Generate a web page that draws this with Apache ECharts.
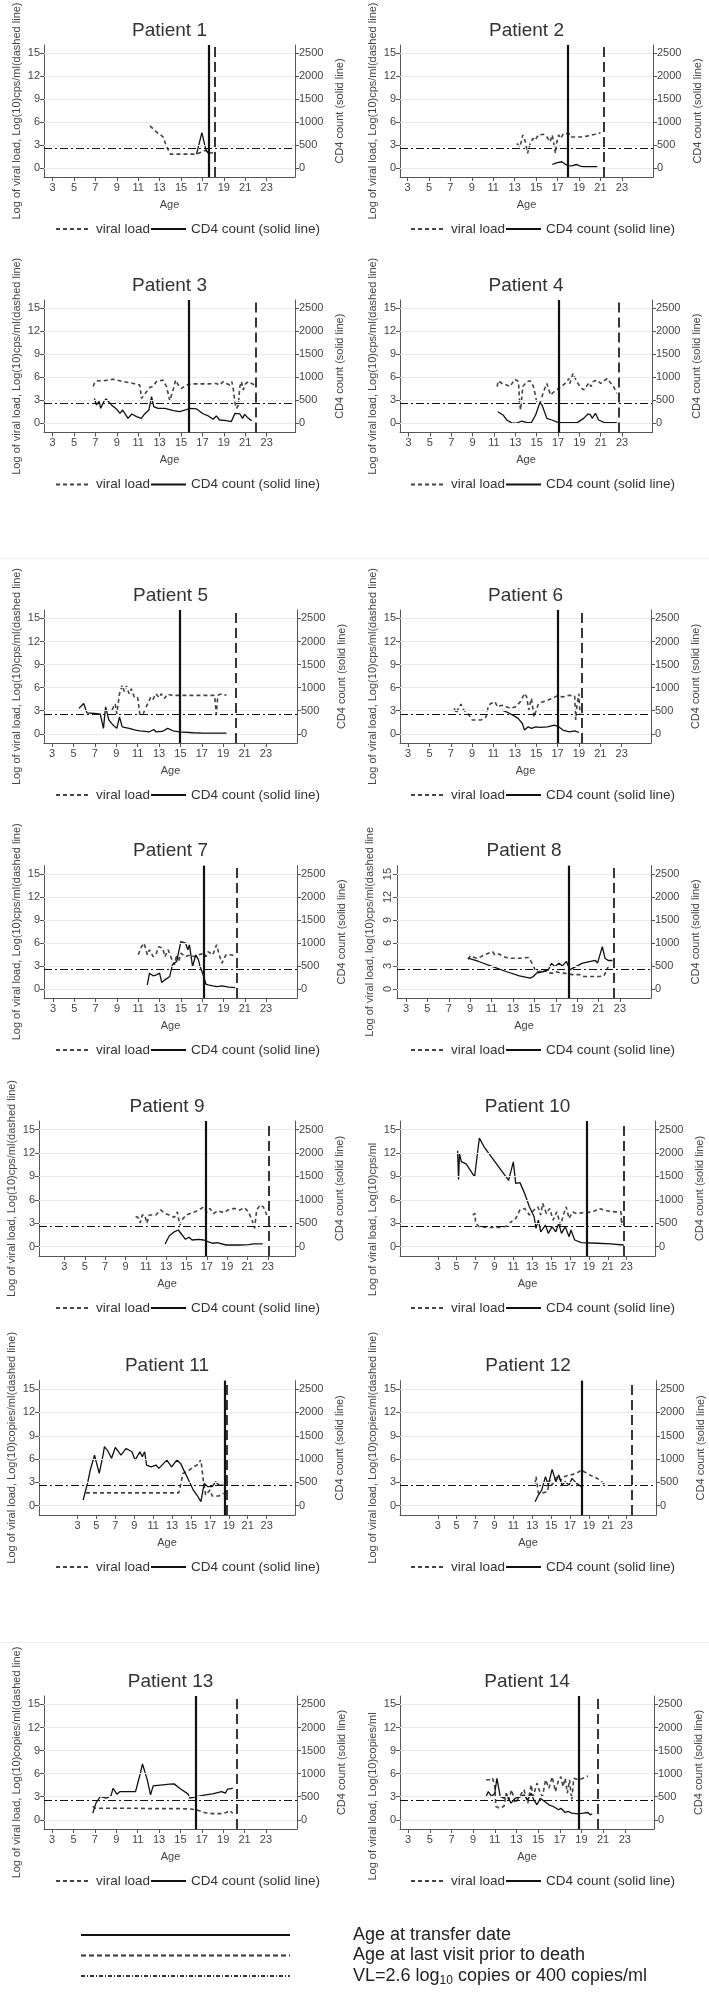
<!DOCTYPE html>
<html>
<head>
<meta charset="utf-8">
<script src="https://cdn.jsdelivr.net/npm/echarts@6/dist/echarts.min.js"></script>
<style>
  body { margin: 0; background: #fff; overflow: hidden; }
  #chart { position: absolute; left: 0; top: -30px; width: 709px; height: 2023px; }
  .sep { position: absolute; left: 0; width: 709px; height: 1px; background: #eeeeee; }
</style>
</head>
<body>
<div id="chart"></div>
<div class="sep" style="top:558px"></div>
<div class="sep" style="top:1642px"></div>
<script>
// ages in years, viral load in log10 copies/ml, CD4 in cells
var vl1 = [[12.1,5.5],[12.7,4.7],[13.3,4.1],[13.65,2.8],[14.0,1.8],[16.45,1.8],[16.8,2.0],[17.3,2.3],[17.6,1.9],[18.0,2.0]];
var cd4_1 = [[16.45,300],[16.95,770],[17.3,420],[17.5,330],[17.7,300]];

var vl2 = [[13.2,3.2],[13.5,2.75],[13.75,4.3],[14.0,3.4],[14.2,1.9],[14.45,3.2],[14.7,3.85],[14.9,3.6],[15.2,4.3],[15.7,4.4],[16.0,4.05],[16.3,3.4],[16.5,4.3],[16.7,2.75],[16.8,1.9],[16.9,3.2],[17.1,4.3],[17.3,3.85],[17.55,4.5],[17.9,4.5],[18.2,4.4],[18.3,4.05],[19.1,4.05],[19.7,4.15],[20.5,4.4],[21.0,4.6]];
var cd4_2 = [[16.5,73],[16.9,110],[17.4,133],[17.7,83],[18.0,50],[18.3,43],[18.8,73],[19.1,37],[19.4,28],[20.7,28]];

var vl3 = [[6.8,4.8],[6.95,5.4],[7.3,5.55],[7.75,5.55],[8.65,5.75],[9.6,5.45],[10.55,5.2],[11.15,5.0],[11.3,3.25],[11.8,4.15],[12.1,4.7],[12.4,4.85],[12.7,5.45],[13.0,5.55],[13.3,5.65],[13.65,4.8],[13.95,2.95],[14.3,4.55],[14.5,5.65],[14.75,5.0],[15.05,4.55],[15.5,5.0],[16.0,5.15],[16.8,5.15],[17.55,5.15],[18.3,5.2],[18.6,5.0],[18.95,5.45],[19.25,5.2],[19.55,5.0],[19.75,5.45],[19.9,4.35],[20.05,2.6],[20.2,1.95],[20.35,2.4],[20.5,4.8],[20.65,5.45],[20.8,4.35],[21.05,5.2],[21.3,5.45],[21.6,5.2],[21.9,5.0]];
var cd4_3 = [[6.9,543],[7.1,400],[7.35,478],[7.5,327],[7.8,478],[8.0,528],[8.5,400],[9.0,305],[9.3,217],[9.55,290],[9.75,217],[10.05,108],[10.4,203],[10.85,145],[11.3,108],[11.6,203],[12.0,290],[12.25,580],[12.45,362],[12.85,327],[13.5,327],[14.3,275],[14.9,253],[15.4,290],[15.8,327],[16.45,312],[17.1,203],[17.55,160],[18.0,87],[18.3,160],[18.6,72],[19.25,58],[19.7,37],[19.9,145],[20.05,217],[20.5,203],[20.75,108],[20.95,195],[21.3,108],[21.6,58]];

var vl4 = [[11.3,4.8],[11.4,5.55],[11.75,5.2],[12.2,5.0],[12.5,4.8],[12.95,5.75],[13.3,5.45],[13.4,2.6],[13.5,1.75],[13.7,4.8],[14.1,5.45],[14.4,5.55],[14.7,4.8],[15.0,2.85],[15.3,2.6],[15.65,4.15],[15.95,5.2],[16.3,3.7],[16.65,4.15],[17.05,4.55],[17.5,5.0],[17.85,5.45],[18.0,5.85],[18.1,5.2],[18.4,6.5],[18.75,5.45],[19.05,4.8],[19.4,4.35],[19.65,4.8],[19.9,5.3],[20.1,4.8],[20.3,5.45],[20.65,5.65],[21.0,5.2],[21.3,5.55],[21.6,5.85],[21.9,5.3],[22.2,4.8],[22.5,3.9]];
var cd4_4 = [[11.35,253],[11.85,182],[12.2,72],[12.7,5],[13.15,5],[13.6,50],[14.1,15],[14.5,15],[14.9,182],[15.3,450],[15.5,398],[15.95,108],[16.4,72],[17.05,15],[17.85,15],[18.8,15],[19.4,108],[19.8,203],[20.05,182],[20.2,108],[20.5,217],[20.8,72],[21.3,22],[22.5,15]];

var vl5 = [[8.6,3.1],[8.9,3.9],[9.05,2.6],[9.3,5.2],[9.55,6.3],[9.75,5.5],[9.95,6.2],[10.2,5.2],[10.4,5.85],[10.7,4.7],[11.0,4.7],[11.2,2.55],[11.5,2.55],[11.8,3.5],[12.2,4.7],[12.4,4.4],[12.7,5.2],[13.0,4.7],[13.2,5.2],[13.5,4.6],[13.8,5.15],[14.2,5.0],[15.9,5.0],[18.2,5.0],[18.35,2.55],[18.5,5.0],[18.85,5.2],[19.3,5.0]];
var cd4_5 = [[5.5,550],[5.95,657],[6.25,455],[7.0,440],[7.5,427],[7.8,117],[8.0,583],[8.3,300],[8.7,188],[9.05,117],[9.3,367],[9.55,150],[10.2,117],[10.8,80],[11.2,65],[12.1,43],[12.5,93],[12.7,43],[13.3,50],[13.8,117],[14.3,65],[14.9,43],[16.2,22],[17.1,15],[19.3,15]];

var vl6 = [[7.3,3.3],[7.55,2.65],[7.75,3.5],[7.95,3.85],[8.2,3.1],[8.6,2.65],[9.0,1.8],[9.85,1.8],[10.3,2.2],[10.5,3.5],[10.7,3.9],[11.15,4.15],[11.35,3.5],[11.8,3.7],[12.2,3.5],[12.6,3.3],[13.05,3.5],[13.5,4.15],[13.9,5.25],[14.1,4.8],[14.3,3.1],[14.55,4.6],[14.8,2.2],[15.2,3.9],[15.6,4.15],[16.05,4.35],[16.5,4.6],[16.9,4.9],[17.5,4.8],[18.1,5.0],[18.6,4.9],[18.7,1.8],[18.8,3.5],[19.0,5.2],[19.1,2.6]];
var cd4_6 = [[11.8,513],[12.2,477],[12.8,405],[13.3,333],[13.7,223],[13.9,80],[14.25,150],[14.55,117],[14.95,150],[15.4,137],[16.05,150],[16.7,188],[17.1,150],[17.5,80],[18.1,43],[18.6,65],[19.0,28]];

var vl7 = [[11.0,4.45],[11.3,5.5],[11.55,5.95],[11.85,4.45],[12.05,5.1],[12.4,4.2],[12.7,4.65],[12.9,5.5],[13.3,5.3],[13.5,4.2],[13.8,5.1],[14.1,4.0],[14.4,3.15],[14.6,4.45],[14.8,3.55],[15.0,4.65],[15.45,4.2],[15.85,4.45],[16.3,4.2],[16.7,4.45],[17.15,4.65],[17.35,4.2],[17.55,4.85],[18.0,4.45],[18.35,5.75],[18.6,4.45],[18.85,3.35],[19.05,4.0],[19.25,4.45],[19.7,4.45],[20.1,4.3]];
var cd4_7 = [[11.85,87],[12.05,340],[12.4,283],[12.7,305],[13.0,340],[13.2,138],[13.5,195],[13.95,267],[14.2,522],[14.6,595],[15.0,1028],[15.45,993],[15.65,848],[15.8,957],[16.1,485],[16.4,738],[16.65,630],[16.8,485],[17.15,267],[17.35,100],[17.55,87],[18.0,65],[18.4,50],[18.85,65],[19.5,37],[20.1,28]];

var vl8 = [[8.8,3.85],[9.0,4.3],[9.6,4.0],[10.0,4.2],[10.7,4.65],[11.1,4.85],[11.3,4.45],[11.7,4.55],[12.1,4.2],[12.6,4.0],[13.6,4.0],[14.45,4.1],[14.9,3.1],[15.1,2.25],[15.5,2.25],[15.9,2.5],[16.3,2.05],[16.7,2.05],[16.9,2.25],[17.75,2.05],[18.6,1.85],[19.2,1.85],[19.65,1.6],[21.1,1.6],[21.5,1.7],[21.7,2.25],[21.9,2.9],[22.1,3.35]];
var cd4_8 = [[8.8,667],[9.8,595],[11.1,485],[12.35,377],[13.6,283],[14.6,232],[14.9,267],[15.2,340],[15.9,377],[16.3,413],[16.6,558],[16.9,483],[17.3,558],[17.6,500],[18.0,595],[18.3,413],[18.6,450],[19.5,558],[20.7,617],[20.9,558],[21.35,920],[21.6,667],[21.9,617],[22.3,617]];

var vl9 = [[10.0,3.85],[10.2,3.8],[10.45,3.05],[10.65,4.05],[10.9,4.05],[11.1,3.0],[11.35,4.05],[12.0,4.05],[12.45,4.7],[12.9,4.25],[13.3,4.05],[13.8,3.75],[14.1,4.45],[14.35,2.75],[14.65,3.6],[15.0,4.05],[15.35,4.25],[15.8,4.45],[16.2,4.7],[16.7,5.1],[17.0,4.45],[17.3,4.9],[17.65,4.25],[18.1,4.6],[18.7,4.35],[19.1,4.7],[19.7,4.9],[20.25,4.7],[20.7,5.0],[21.1,4.45],[21.5,3.2],[21.7,2.35],[21.9,4.7],[22.25,5.35],[22.55,5.1],[22.9,4.05]];
var cd4_9 = [[12.9,57],[13.3,227],[13.8,317],[14.2,355],[14.5,270],[14.9,157],[15.25,200],[15.55,142],[16.2,157],[16.7,142],[17.1,107],[17.6,72],[18.0,85],[18.9,35],[20.25,35],[21.1,43],[21.6,57],[22.5,57]];

var vl10 = [[6.7,4.05],[6.95,4.25],[7.0,3.0],[7.4,2.55],[8.4,2.45],[9.8,2.45],[10.3,2.65],[10.8,3.2],[11.25,3.6],[11.7,4.7],[12.2,4.9],[12.7,4.05],[13.2,4.7],[13.6,5.1],[13.9,4.05],[14.1,5.55],[14.5,4.25],[14.85,4.9],[15.2,3.4],[15.6,4.45],[16.0,2.75],[16.3,4.05],[16.6,5.1],[16.9,3.6],[17.25,4.45],[17.7,4.25],[18.4,4.35],[19.4,4.45],[20.1,4.9],[20.8,4.6],[21.8,4.45],[22.4,4.45],[22.45,2.8],[22.55,3.6]];
var cd4_10 = [[5.1,2050],[5.2,1433],[5.3,1983],[5.5,1817],[6.0,1767],[6.9,1492],[7.4,2317],[7.9,2133],[10.5,1417],[11.0,1810],[11.25,1350],[11.7,1367],[12.2,1133],[12.7,850],[13.2,638],[13.4,390],[13.65,567],[13.9,317],[14.4,462],[14.7,283],[15.1,427],[15.5,317],[15.8,497],[16.1,283],[16.5,427],[16.9,213],[17.1,355],[17.5,142],[18.2,85],[19.9,72],[21.3,57],[22.7,35]];

var vl11 = [[3.9,1.65],[13.7,1.65],[13.9,2.65],[14.15,4.15],[14.5,4.35],[14.85,4.6],[15.3,5.0],[15.8,5.35],[16.05,5.95],[16.3,3.3],[16.55,1.35],[17.0,2.0],[17.25,1.25],[17.95,1.25],[18.45,1.6]];
var cd4_11 = [[3.6,122],[4.1,515],[4.35,765],[4.8,1083],[5.3,693],[5.7,1083],[5.85,1267],[6.15,1193],[6.35,1228],[6.6,1017],[7.0,1250],[7.6,1083],[8.15,1228],[8.75,1157],[9.1,978],[9.6,1157],[9.85,1050],[10.1,1157],[10.3,872],[10.8,833],[11.3,872],[11.6,800],[12.45,978],[12.95,833],[13.5,978],[13.9,907],[14.4,693],[14.75,550],[15.25,333],[15.7,207],[16.05,85],[16.4,478],[16.8,407],[17.25,407],[17.6,515],[17.95,443],[18.45,443]];

var vl12 = [[13.3,2.85],[13.4,3.75],[13.65,1.6],[14.1,1.65],[14.6,1.8],[14.85,3.3],[15.1,2.65],[15.6,3.75],[16.05,3.3],[16.5,3.8],[17.0,3.95],[17.7,4.15],[18.2,4.6],[18.9,4.05],[19.9,3.5],[20.8,2.65]];
var cd4_12 = [[13.3,85],[13.65,228],[14.0,333],[14.4,622],[14.7,443],[15.1,778],[15.5,515],[15.8,657],[16.15,443],[16.5,515],[16.9,443],[17.2,585],[17.7,478],[18.2,407]];

var vl13 = [[6.8,1.75],[7.0,1.5],[7.9,1.5],[9.1,1.5],[10.8,1.5],[12.1,1.45],[13.35,1.45],[15.05,1.45],[15.9,1.4],[16.5,1.3],[16.9,1.1],[17.35,0.9],[18.0,0.8],[18.85,0.8],[19.3,0.95],[19.6,1.2],[19.9,0.85]];
var cd4_13 = [[6.8,143],[7.1,360],[7.5,505],[8.05,468],[8.5,517],[8.7,683],[9.05,555],[9.35,612],[10.0,612],[10.8,612],[11.25,1008],[11.45,1210],[11.9,865],[12.2,540],[12.45,735],[13.35,757],[14.0,772],[14.4,778],[15.05,663],[15.7,562],[15.9,468],[16.3,490],[17.2,533],[18.0,562],[18.85,612],[19.2,577],[19.4,663],[19.9,683]];

var vl14 = [[10.2,5.2],[10.6,5.2],[10.8,5.4],[11.0,4.3],[11.1,1.75],[11.4,1.5],[11.85,1.75],[12.05,3.45],[12.3,2.6],[12.55,3.9],[12.9,2.15],[13.3,3.05],[13.7,3.9],[14.05,2.15],[14.35,4.55],[14.55,3.05],[14.9,4.75],[15.2,3.45],[15.4,3.05],[15.7,5.2],[16.0,4.1],[16.3,5.6],[16.6,3.65],[16.9,5.2],[17.1,5.6],[17.3,4.3],[17.5,5.4],[17.7,3.45],[17.9,5.2],[18.1,2.6],[18.3,5.4],[18.7,5.2],[19.15,5.4],[19.6,5.7]];
var cd4_14 = [[10.2,505],[10.4,612],[10.7,505],[11.0,577],[11.2,900],[11.5,505],[11.85,468],[12.1,540],[12.5,360],[12.9,468],[13.3,490],[13.7,540],[14.05,433],[14.35,577],[14.6,433],[14.9,325],[15.2,468],[15.6,397],[16.0,325],[16.4,288],[16.9,217],[17.1,250],[17.5,158],[17.8,180],[18.1,143],[18.7,130],[19.15,143],[19.6,158],[19.8,108],[20.0,130]];

var patients = ['Patient 1','Patient 2','Patient 3','Patient 4','Patient 5','Patient 6','Patient 7','Patient 8','Patient 9','Patient 10','Patient 11','Patient 12','Patient 13','Patient 14'];
var transferAge = [17.55,17.93,15.74,17.1,14.92,16.98,17.1,18.2,16.9,18.78,18.55,18.2,16.4,18.74];
var lastVisitAge = [18.17,21.29,22.0,22.7,20.17,19.27,20.28,22.4,23.1,22.66,18.8,23.48,20.3,20.5];
var ageMin = [2.2,2.3,2.2,2.2,2.24,2.24,2.15,2.16,0.5,-1.0,-1.07,-1.0,2.24,2.25];
var ageMax = [25.65,25.9,25.65,25.8,25.9,25.75,25.9,25.9,25.67,26.0,26.0,26.1,25.9,25.7];
var vlData = [vl1,vl2,vl3,vl4,vl5,vl6,vl7,vl8,vl9,vl10,vl11,vl12,vl13,vl14];
var cd4Data = [cd4_1,cd4_2,cd4_3,cd4_4,cd4_5,cd4_6,cd4_7,cd4_8,cd4_9,cd4_10,cd4_11,cd4_12,cd4_13,cd4_14];

var ageTicks = [3,5,7,9,11,13,15,17,19,21,23];
var vlTicks = [0,3,6,9,12,15];
var cd4Ticks = [0,500,1000,1500,2000,2500];
var vlMin = -1.2, vlMax = 16.1;
var cd4PerLog = 2500 / 15;
var vlThreshold = 2.6;

var nameCps = 'Log of viral load, Log(10)cps/ml(dashed line)';
var nameCopies = 'Log of viral load, Log(10)copies/ml(dashed line)';
var vlAxisNames = [nameCps,nameCps,nameCps,nameCps,nameCps,nameCps,nameCps,
  'Log of viral load, log(10)cps/ml(dashed line', nameCps, 'Log of viral load, Log(10)cps/ml',
  nameCopies, nameCopies, nameCopies, 'Log of viral load, Log(10)copies/ml'];
var cd4AxisName = 'CD4 count (solid line)';
var legendNames = ['viral load', 'CD4 count (solid line)'];
var keyNames = ['Age at transfer date', 'Age at last visit prior to death', 'VL=2.6 log10 copies or 400 copies/ml'];

// layout (pixels, page coordinates); the canvas starts SHIFT px above the page
var SHIFT = 30;
var rowBox = [[45,177],[300,432.5],[610,743],[865.6,998],[1121,1256],[1380.6,1515],[1696,1829]];
var colBox = [[44,295],[400,653],[44,295],[400,652],[44,297],[400,651],[44,297],[397,651],[39,295],[400,655],[39,295],[400,656],[44,297],[400,654]];
var namePad = [0,0,0,0,0,0,0,0,0,62,0,0,0,68];

function buildOption() {
  var axisColor = '#555';
  var textColor = '#444';
  var font = 'Liberation Sans, Arial, sans-serif';
  var plain = function (v) { return String(v); };

  var option = {
    animation: false,
    backgroundColor: '#fff',
    textStyle: { fontFamily: font },
    title: [], grid: [], xAxis: [], yAxis: [], series: [], legend: []
  };

  for (var i = 0; i < patients.length; i++) {
    var r = Math.floor(i / 2), c = i % 2;
    var gTop = rowBox[r][0] + SHIFT, gBottom = rowBox[r][1] + SHIFT;
    var gLeft = colBox[i][0], gRight = colBox[i][1];

    option.grid.push({ left: gLeft, top: gTop, width: gRight - gLeft, height: gBottom - gTop, outerBoundsMode: 'none' });

    option.title.push({
      text: patients[i], left: (gLeft + gRight) / 2, top: gTop - 24, textAlign: 'center', padding: 0,
      textStyle: { fontSize: 19, fontWeight: 'normal', color: '#333', fontFamily: font }
    });

    option.xAxis.push({
      gridIndex: i, type: 'value', min: ageMin[i], max: ageMax[i],
      name: 'Age', nameLocation: 'middle', nameGap: 22,
      nameTextStyle: { fontSize: 11, color: textColor },
      axisLine: { onZero: false, lineStyle: { color: axisColor, width: 1 } },
      axisTick: { customValues: ageTicks, length: 4, lineStyle: { color: axisColor } },
      axisLabel: { customValues: ageTicks, fontSize: 11, color: textColor, margin: 5, formatter: plain },
      splitLine: { show: false }
    });

    option.yAxis.push({
      gridIndex: i, type: 'value', position: 'left', min: vlMin, max: vlMax,
      name: vlAxisNames[i], nameLocation: 'middle', nameGap: 22, nameRotate: 90,
      nameTextStyle: { fontSize: 11, color: textColor, padding: [0, namePad[i], 0, 0] },
      axisLine: { show: true, onZero: false, lineStyle: { color: axisColor, width: 1 } },
      axisTick: { show: true, customValues: vlTicks, length: 4, lineStyle: { color: axisColor } },
      axisLabel: { customValues: vlTicks, fontSize: 11, color: textColor, margin: 4, rotate: i === 7 ? 90 : 0, formatter: plain },
      splitLine: { show: false }
    });
    option.yAxis.push({
      gridIndex: i, type: 'value', position: 'right', min: vlMin * cd4PerLog, max: vlMax * cd4PerLog,
      name: cd4AxisName, nameLocation: 'middle', nameGap: 39, nameRotate: 90,
      nameTextStyle: { fontSize: 11, color: textColor },
      axisLine: { show: true, onZero: false, lineStyle: { color: axisColor, width: 1 } },
      axisTick: { show: true, customValues: cd4Ticks, length: 4, lineStyle: { color: axisColor } },
      axisLabel: { customValues: cd4Ticks, fontSize: 11, color: textColor, margin: 4, formatter: plain },
      splitLine: { show: false }
    });

    // light gridlines
    option.series.push({
      type: 'line', xAxisIndex: i, yAxisIndex: 2 * i, data: [], silent: true, z: 1,
      markLine: {
        silent: true, symbol: 'none', label: { show: false },
        data: vlTicks.map(function (v) { return { yAxis: v, lineStyle: { color: '#ebebeb', width: 1, type: 'solid' } }; })
      }
    });
    option.series.push({
      name: 'viral load', type: 'line', xAxisIndex: i, yAxisIndex: 2 * i, data: vlData[i],
      symbol: 'none', z: 3,
      lineStyle: { color: '#444', width: 1.6, type: [4, 3] }
    });
    option.series.push({
      name: 'CD4 count (solid line)', type: 'line', xAxisIndex: i, yAxisIndex: 2 * i + 1, data: cd4Data[i],
      symbol: 'none', z: 3,
      lineStyle: { color: '#111', width: 1.3, type: 'solid' }
    });
    // reference lines
    option.series.push({
      type: 'line', xAxisIndex: i, yAxisIndex: 2 * i, data: [], silent: true, z: 4,
      markLine: {
        silent: true, symbol: 'none', label: { show: false },
        data: [
          { yAxis: vlThreshold, lineStyle: { color: '#111', width: 1.2, type: [8, 3, 2, 3] } },
          { xAxis: transferAge[i], lineStyle: { color: '#111', width: 2.2, type: 'solid' } },
          { xAxis: lastVisitAge[i], lineStyle: { color: '#222', width: 1.8, type: [10, 5] } }
        ]
      }
    });

    option.legend.push({
      data: legendNames, left: c === 0 ? 55 : 410, top: gBottom + 45,
      itemWidth: 35, itemHeight: 10, itemGap: 0, selectedMode: false, padding: 0,
      itemStyle: { opacity: 0 },
      textStyle: { fontSize: 13.5, color: '#333', fontFamily: font }
    });
  }

  // key at the bottom
  var keyStyles = [
    { color: '#111', width: 2.5, type: 'solid' },
    { color: '#333', width: 1.2, type: [5, 3] },
    { color: '#333', width: 1.2, type: [4, 2, 1, 2] }
  ];
  keyNames.forEach(function (n, k) {
    option.series.push({ name: n, type: 'line', xAxisIndex: 13, yAxisIndex: 26, data: [], symbol: 'none', lineStyle: keyStyles[k] });
  });
  option.legend.push({
    data: keyNames, orient: 'vertical', left: 80, top: 1925 + SHIFT, itemWidth: 209, itemHeight: 12, itemGap: 0.5,
    selectedMode: false, padding: 0,
    itemStyle: { opacity: 0 },
    formatter: function (name) {
      return name === keyNames[2] ? 'VL=2.6 log{sub|10} copies or 400 copies/ml' : name;
    },
    textStyle: {
      fontSize: 18, lineHeight: 20, color: '#222', fontFamily: font, padding: [0, 0, 0, 58],
      rich: { sub: { fontSize: 12, color: '#222', fontFamily: font, padding: [9, 0, 0, 0] } }
    }
  });
  return option;
}

var chart = echarts.init(document.getElementById('chart'));
chart.setOption(buildOption());
</script>
</body>
</html>
